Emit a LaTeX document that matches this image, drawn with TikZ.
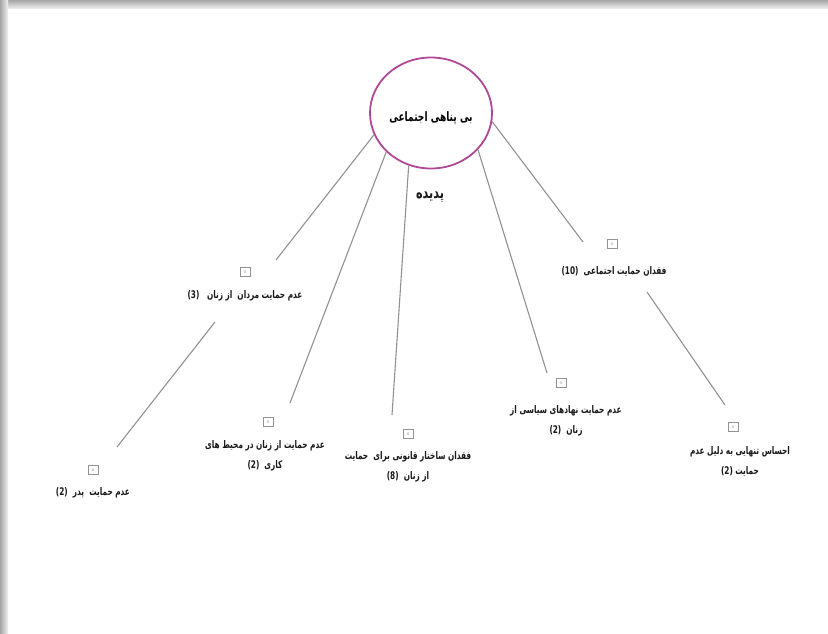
\documentclass[tikz,border=0pt]{standalone}
\usepackage{fontspec}
\TeXXeTstate=1
\newfontfamily\fa[Script=Arabic,FakeStretch=0.7]{DejaVu Sans}
\usetikzlibrary{shapes.geometric}
\definecolor{rootc}{RGB}{176,72,150}
\definecolor{linec}{RGB}{145,145,145}
\tikzset{
  conn/.style={draw=linec, line width=1.1pt},
  lbl/.style={font=\fa\bfseries\fontsize{10.5}{20}\selectfont, align=center, inner sep=0pt, text=black!90},
  ibox/.style={draw=gray!85, line width=0.6pt, minimum width=10pt, minimum height=8.5pt, inner sep=0pt, font=\fontsize{4}{4}\selectfont, text=gray},
  rootnode/.style={ellipse, draw=rootc, line width=1.8pt, minimum width=122pt, minimum height=111pt, inner sep=0pt, font=\fa\bfseries\fontsize{13}{14}\selectfont},
}
\begin{document}
\begin{tikzpicture}[x=1pt,y=-1pt]
  % page and shadow
  \fill[white] (0,0) rectangle (828,634);
  \shade[top color=gray!70, bottom color=gray!10] (0,0) rectangle (828,9);
  \shade[left color=gray!70, right color=gray!10] (0,0) rectangle (8,634);
  \useasboundingbox (0,0) rectangle (828,634);

  % central phenomenon
  \node[rootnode] (root) at (431,113) {\raisebox{-9pt}[0pt][0pt]{\beginR بی پناهی اجتماعی\endR}};
  \node[lbl, font=\fa\bfseries\fontsize{16}{18}\selectfont] (pd) at (430,197) {\beginR پدیده\endR};

  % icon boxes
  \node[ibox] (b1) at (245,272) {0};
  \node[ibox] (b2) at (612,244) {0};
  \node[ibox] (b3) at (93,470) {0};
  \node[ibox] (b4) at (268,422) {0};
  \node[ibox] (b5) at (408,434) {0};
  \node[ibox] (b6) at (561,383) {0};
  \node[ibox] (b7) at (733,427) {0};

  % labels
  \node[lbl] (t1) at (245,296) {\beginR عدم حمایت مردان\ \ از زنان\ \ \ \beginL(3)\endL\endR};
  \node[lbl] (t2) at (614,271) {\beginR فقدان حمایت اجتماعی\ \ \beginL(10)\endL\endR};
  \node[lbl] (t3) at (93,493) {\beginR عدم حمایت\ \ پدر\ \ \beginL(2)\endL\endR};
  \node[lbl] (t4) at (265,456) {\beginR عدم حمایت از زنان در محیط های\endR\\\beginR کاری\ \ \beginL(2)\endL\endR};
  \node[lbl] (t5) at (408,467) {\beginR فقدان ساختار قانونی برای\ \ حمایت\endR\\\beginR از زنان\ \ \beginL(8)\endL\endR};
  \node[lbl] (t6) at (566,421) {\beginR عدم حمایت نهادهای سیاسی از\endR\\\beginR زنان\ \ \beginL(2)\endL\endR};
  \node[lbl] (t7) at (740,461) {\beginR احساس تنهایی به دلیل عدم\endR\\\beginR حمایت \beginL(2)\endL\endR};

  % connector ends
  \coordinate (e1) at (276,260);
  \coordinate (e2) at (290,403);
  \coordinate (e3) at (392,415);
  \coordinate (e4) at (547,373);
  \coordinate (e5) at (583,242);
  \coordinate (s6) at (647,292);
  \coordinate (e6) at (725,405);
  \coordinate (s7) at (215,322);
  \coordinate (e7) at (117,447);

  \draw[conn] (root.201) -- (e1);
  \draw[conn] (root.221) -- (e2);
  \draw[conn] (root.247) -- (e3);
  \draw[conn] (root.322) -- (e4);
  \draw[conn] (root.352) -- (e5);
  \draw[conn] (s6) -- (e6);
  \draw[conn] (s7) -- (e7);
\end{tikzpicture}
\end{document}
